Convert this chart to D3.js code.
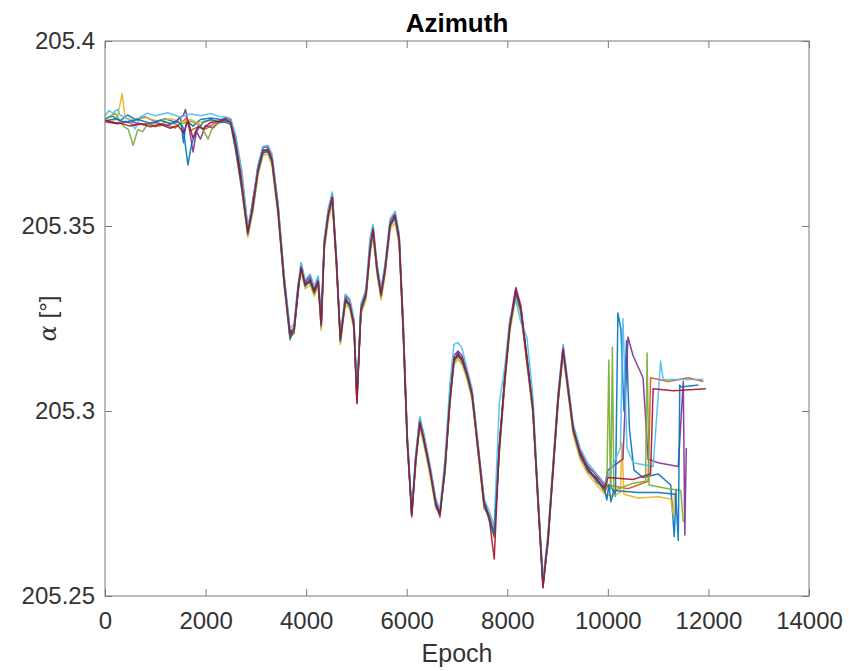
<!DOCTYPE html>
<html>
<head>
<meta charset="utf-8">
<script src="https://cdn.jsdelivr.net/npm/d3@7"></script>
<style>
  html, body { margin: 0; padding: 0; background: #ffffff; }
  svg { display: block; font-family: "Liberation Sans", Arial, Helvetica, sans-serif; }
</style>
</head>
<body>
<svg id="chart" width="849" height="671"></svg>
<script>
// ---------------- DATA ----------------
const title = "Azimuth";
const xLabel = "Epoch";
const yLabel = "α [°]";
const xTicks = [0, 2000, 4000, 6000, 8000, 10000, 12000, 14000];
const yTicks = [205.25, 205.3, 205.35, 205.4];
const yTickLabels = ["205.25", "205.3", "205.35", "205.4"];
const seriesColors = ["#0072BD", "#D95319", "#EDB120", "#7E2F8E", "#77AC30", "#4DBEEE", "#0072BD", "#A2142F"];

// shared epochs for the middle section of every run
const epochMid = [2400, 2500, 2600, 2720, 2840, 2940, 3040, 3140, 3240, 3320,
  3440, 3560, 3680, 3760, 3840, 3900, 3980, 4080, 4160, 4240,
  4300, 4360, 4440, 4520, 4600, 4680, 4780, 4870, 4950, 5010,
  5090, 5190, 5270, 5330, 5410, 5490, 5570, 5670, 5770, 5850,
  5930, 6010, 6100, 6180, 6260, 6340, 6460, 6580, 6660, 6760,
  6860, 6940, 7020, 7100, 7200, 7300, 7420, 7540, 7640, 7740,
  7840, 7950, 8050, 8170, 8270, 8390, 8510, 8610, 8710, 8810,
  8910, 9010, 9110, 9210, 9310, 9450, 9600, 9780, 9940];

// run 1
const head1 = [[0,205.3790],[150,205.3797],[300,205.3785],[450,205.3800],[600,205.3788],[800,205.3795],[1000,205.3782],[1200,205.3790],[1400,205.3780],[1500,205.3795],[1560,205.3725],[1620,205.3785],[1750,205.3770],[1900,205.3788],[2100,205.3792],[2300,205.3788]];
const mid1 = [205.3789,205.3779,205.3722,205.3630,205.3478,205.3571,205.3650,205.3708,205.3699,205.3684,
  205.3552,205.3346,205.3214,205.3225,205.3318,205.3392,205.3336,205.3360,205.3315,205.3356,
  205.3240,205.3441,205.3538,205.3569,205.3415,205.3185,205.3309,205.3279,205.3240,205.3041,
  205.3266,205.3320,205.3428,205.3495,205.3374,205.3321,205.3388,205.3496,205.3531,205.3455,
  205.3228,205.2915,205.2727,205.2860,205.2975,205.2915,205.2848,205.2739,205.2727,205.2834,
  205.3038,205.3130,205.3160,205.3131,205.3104,205.3036,205.2903,205.2739,205.2718,205.2672,
  205.2888,205.3091,205.3219,205.3330,205.3266,205.3145,205.2996,205.2766,205.2538,205.2644,
  205.2848,205.3022,205.3172,205.3050,205.2956,205.2874,205.2848,205.2807,205.2795];
const tail1 = [[10050,205.2800],[10150,205.2770],[10200,205.3265],[10260,205.3220],[10320,205.3000],[10370,205.3190],[10430,205.2950],[10520,205.2840],[10700,205.2820],[11000,205.2830],[11250,205.2800],[11320,205.2660],[11360,205.2790]];

// run 2
const head2 = [[0,205.3785],[200,205.3778],[400,205.3783],[600,205.3772],[800,205.3777],[1000,205.3768],[1200,205.3774],[1400,205.3765],[1500,205.3778],[1620,205.3792],[1700,205.3758],[1850,205.3768],[2000,205.3762],[2150,205.3776],[2300,205.3782]];
const mid2 = [205.3783,205.3785,205.3738,205.3640,205.3495,205.3552,205.3656,205.3694,205.3711,205.3670,
  205.3560,205.3368,205.3198,205.3210,205.3335,205.3379,205.3350,205.3344,205.3330,205.3341,
  205.3225,205.3456,205.3522,205.3583,205.3400,205.3200,205.3292,205.3294,205.3225,205.3022,
  205.3281,205.3306,205.3442,205.3482,205.3389,205.3306,205.3374,205.3510,205.3517,205.3470,
  205.3240,205.2935,205.2712,205.2875,205.2960,205.2930,205.2834,205.2753,205.2712,205.2848,
  205.3022,205.3145,205.3144,205.3146,205.3090,205.3050,205.2888,205.2754,205.2704,205.2658,
  205.2910,205.3076,205.3235,205.3314,205.3281,205.3130,205.3011,205.2752,205.2523,205.2659,
  205.2834,205.3038,205.3158,205.3065,205.2942,205.2888,205.2834,205.2821,205.2780];
const tail2 = [[10000,205.2800],[10400,205.2790],[10800,205.2810],[10850,205.3090],[11200,205.3080],[11600,205.3090],[11900,205.3080]];

// run 3
const head3 = [[0,205.3788],[150,205.3782],[250,205.3795],[340,205.3858],[400,205.3792],[600,205.3785],[800,205.3793],[1050,205.3784],[1300,205.3790],[1500,205.3781],[1700,205.3788],[1850,205.3778],[2000,205.3785],[2300,205.3784]];
const mid3 = [205.3780,205.3776,205.3700,205.3595,205.3470,205.3538,205.3635,205.3690,205.3696,205.3662,
  205.3530,205.3340,205.3190,205.3230,205.3340,205.3375,205.3330,205.3340,205.3310,205.3336,
  205.3218,205.3430,205.3515,205.3560,205.3395,205.3180,205.3288,205.3275,205.3218,205.3048,
  205.3260,205.3300,205.3420,205.3475,205.3368,205.3300,205.3368,205.3490,205.3510,205.3448,
  205.3205,205.2905,205.2730,205.2855,205.2955,205.2910,205.2828,205.2735,205.2730,205.2830,
  205.3018,205.3125,205.3140,205.3125,205.3085,205.3030,205.2882,205.2735,205.2722,205.2678,
  205.2880,205.3070,205.3212,205.3308,205.3260,205.3125,205.2990,205.2745,205.2545,205.2640,
  205.2828,205.3018,205.3152,205.3045,205.2936,205.2868,205.2830,205.2800,205.2775];
const tail3 = [[10100,205.2770],[10250,205.2780],[10280,205.2914],[10320,205.2775],[10600,205.2765],[11000,205.2768],[11250,205.2762],[11300,205.2720],[11330,205.2780]];

// run 4
const head4 = [[0,205.3782],[250,205.3776],[500,205.3783],[750,205.3774],[1000,205.3780],[1250,205.3772],[1400,205.3782],[1560,205.3800],[1600,205.3815],[1680,205.3760],[1750,205.3700],[1820,205.3755],[1900,205.3735],[2000,205.3772],[2150,205.3765],[2300,205.3786]];
const mid4 = [205.3792,205.3788,205.3732,205.3622,205.3490,205.3565,205.3660,205.3712,205.3714,205.3690,
  205.3556,205.3362,205.3215,205.3212,205.3322,205.3398,205.3348,205.3366,205.3328,205.3360,
  205.3245,205.3460,205.3542,205.3588,205.3420,205.3198,205.3312,205.3298,205.3245,205.3035,
  205.3285,205.3326,205.3446,205.3500,205.3392,205.3326,205.3392,205.3514,205.3535,205.3474,
  205.3232,205.2930,205.2722,205.2880,205.2980,205.2934,205.2852,205.2758,205.2724,205.2852,
  205.3042,205.3150,205.3162,205.3150,205.3108,205.3055,205.2906,205.2758,205.2715,205.2670,
  205.2906,205.3096,205.3238,205.3334,205.3285,205.3150,205.3015,205.2770,205.2535,205.2662,
  205.2852,205.3042,205.3176,205.3068,205.2960,205.2892,205.2852,205.2825,205.2798];
const tail4 = [[10000,205.2840],[10300,205.2870],[10400,205.3200],[10500,205.3150],[10700,205.3090],[10800,205.2870],[11000,205.2860],[11400,205.2850],[11500,205.3080],[11530,205.2665],[11560,205.2900]];

// run 5
const head5 = [[0,205.3790],[120,205.3798],[200,205.3805],[300,205.3785],[380,205.3768],[460,205.3762],[560,205.3718],[650,205.3760],[750,205.3755],[850,205.3776],[1050,205.3770],[1200,205.3781],[1450,205.3774],[1700,205.3783],[1900,205.3772],[2050,205.3735],[2150,205.3770],[2300,205.3780]];
const mid5 = [205.3784,205.3783,205.3708,205.3600,205.3474,205.3545,205.3642,205.3702,205.3700,205.3672,
  205.3538,205.3350,205.3200,205.3216,205.3330,205.3382,205.3345,205.3348,205.3318,205.3345,
  205.3228,205.3445,205.3526,205.3572,205.3404,205.3188,205.3296,205.3282,205.3228,205.3026,
  205.3270,205.3310,205.3432,205.3486,205.3378,205.3310,205.3378,205.3500,205.3520,205.3458,
  205.3214,205.2918,205.2716,205.2864,205.2964,205.2918,205.2838,205.2742,205.2716,205.2838,
  205.3026,205.3134,205.3148,205.3134,205.3094,205.3040,205.2892,205.2742,205.2708,205.2662,
  205.2892,205.3080,205.3224,205.3318,205.3270,205.3134,205.3000,205.2756,205.2527,205.2648,
  205.2838,205.3026,205.3162,205.3054,205.2946,205.2878,205.2838,205.2810,205.2783];
const tail5 = [[9980,205.2800],[10020,205.3138],[10050,205.2790],[10060,205.2795],[10090,205.3173],[10120,205.2785],[10500,205.2805],[10750,205.2810],[10780,205.3157],[10820,205.2800],[11200,205.2790],[11450,205.2785],[11500,205.2700]];

// run 6
const head6 = [[0,205.3798],[80,205.3812],[150,205.3806],[250,205.3815],[300,205.3800],[450,205.3790],[600,205.3762],[700,205.3795],[850,205.3805],[1000,205.3798],[1250,205.3806],[1500,205.3794],[1700,205.3803],[1900,205.3798],[2100,205.3804],[2300,205.3795]];
const mid6 = [205.3795,205.3790,205.3745,205.3650,205.3500,205.3560,205.3665,205.3715,205.3718,205.3695,
  205.3565,205.3372,205.3222,205.3235,205.3345,205.3402,205.3355,205.3370,205.3338,205.3365,
  205.3250,205.3465,205.3548,205.3592,205.3425,205.3205,205.3316,205.3302,205.3250,205.3050,
  205.3290,205.3330,205.3470,205.3505,205.3398,205.3330,205.3400,205.3520,205.3540,205.3480,
  205.3245,205.2940,205.2735,205.2885,205.2985,205.2940,205.2858,205.2762,205.2735,205.2870,
  205.3075,205.3180,205.3185,205.3170,205.3115,205.3060,205.2910,205.2762,205.2730,205.2690,
  205.3020,205.3120,205.3250,205.3300,205.3240,205.3200,205.3040,205.2780,205.2545,205.2670,
  205.2860,205.3050,205.3180,205.3075,205.2965,205.2900,205.2860,205.2830,205.2805];
const tail6 = [[10250,205.2900],[10300,205.3250],[10380,205.2900],[10500,205.2860],[10900,205.2850],[11050,205.3135],[11100,205.3085],[11600,205.3085],[11900,205.3085]];

// run 7
const head7 = [[0,205.3784],[200,205.3790],[400,205.3780],[650,205.3788],[900,205.3778],[1100,205.3786],[1300,205.3776],[1450,205.3782],[1550,205.3768],[1650,205.3665],[1720,205.3720],[1800,205.3752],[1950,205.3780],[2100,205.3788],[2300,205.3780]];
const mid7 = [205.3781,205.3774,205.3705,205.3602,205.3480,205.3548,205.3645,205.3698,205.3702,205.3675,
  205.3540,205.3348,205.3195,205.3222,205.3335,205.3384,205.3338,205.3350,205.3320,205.3346,
  205.3230,205.3446,205.3528,205.3574,205.3405,205.3190,205.3298,205.3284,205.3230,205.3032,
  205.3272,205.3312,205.3434,205.3488,205.3380,205.3312,205.3380,205.3502,205.3522,205.3460,
  205.3216,205.2920,205.2718,205.2866,205.2966,205.2920,205.2840,205.2744,205.2718,205.2840,
  205.3028,205.3136,205.3150,205.3136,205.3096,205.3042,205.2894,205.2744,205.2710,205.2664,
  205.2894,205.3082,205.3226,205.3320,205.3272,205.3136,205.3002,205.2758,205.2529,205.2650,
  205.2840,205.3028,205.3164,205.3056,205.2948,205.2880,205.2840,205.2812,205.2785];
const tail7 = [[9980,205.2760],[10020,205.2800],[10060,205.2755],[10120,205.2785],[10600,205.2780],[11000,205.2780],[11350,205.2775],[11400,205.2650],[11430,205.3070],[11460,205.3065],[11800,205.3070]];

// run 8
const head8 = [[0,205.3786],[180,205.3780],[350,205.3776],[500,205.3770],[700,205.3777],[900,205.3768],[1100,205.3775],[1300,205.3764],[1450,205.3772],[1560,205.3752],[1650,205.3784],[1750,205.3738],[1850,205.3770],[1950,205.3762],[2100,205.3780],[2300,205.3784]];
const mid8 = [205.3787,205.3780,205.3718,205.3610,205.3482,205.3555,205.3650,205.3704,205.3706,205.3680,
  205.3546,205.3356,205.3206,205.3220,205.3328,205.3388,205.3342,205.3354,205.3324,205.3350,
  205.3235,205.3450,205.3532,205.3578,205.3410,205.3194,205.3302,205.3288,205.3234,205.3020,
  205.3276,205.3316,205.3438,205.3492,205.3384,205.3316,205.3384,205.3506,205.3528,205.3466,
  205.3222,205.2925,205.2720,205.2870,205.2970,205.2925,205.2844,205.2750,205.2720,205.2844,
  205.3032,205.3140,205.3154,205.3140,205.3100,205.3046,205.2898,205.2750,205.2712,205.2600,
  205.2898,205.3086,205.3230,205.3326,205.3276,205.3140,205.3006,205.2762,205.2522,205.2654,
  205.2844,205.3034,205.3168,205.3060,205.2952,205.2884,205.2844,205.2816,205.2790];
const tail8 = [[10000,205.2820],[10500,205.2815],[10850,205.2830],[10900,205.3060],[11300,205.3055],[11950,205.3060]];

// ---------------- CHART ----------------
const heads = [head1, head2, head3, head4, head5, head6, head7, head8];
const mids  = [mid1, mid2, mid3, mid4, mid5, mid6, mid7, mid8];
const tails = [tail1, tail2, tail3, tail4, tail5, tail6, tail7, tail8];
const series = heads.map((h, k) =>
  h.concat(epochMid.map((e, i) => [e, mids[k][i]]), tails[k]));

const L = 105, T = 41, R = 809, B = 596;
const svg = d3.select("#chart");
const x = d3.scaleLinear().domain([0, 14000]).range([L, R]);
const y = d3.scaleLinear().domain([205.25, 205.4]).range([B, T]);

const line = d3.line().x(d => x(d[0])).y(d => y(d[1]));

svg.append("g").selectAll("path").data(series).join("path")
  .attr("d", line)
  .attr("fill", "none")
  .attr("stroke", (d, i) => seriesColors[i])
  .attr("stroke-width", 1.5)
  .attr("stroke-opacity", 0.9)
  .attr("stroke-linejoin", "round");

const axisColor = "#7a7a7a";
const textColor = "#333333";
const styleAxis = g => {
  g.select(".domain").remove();
  g.selectAll(".tick line").attr("stroke", axisColor);
  g.selectAll(".tick text").attr("fill", textColor).attr("font-size", 24)
    .attr("font-family", "'Liberation Sans', Arial, Helvetica, sans-serif");
};

svg.append("g").attr("transform", `translate(0,${B})`)
  .call(d3.axisBottom(x).tickValues(xTicks).tickFormat(d3.format("d")).tickSizeInner(-7).tickSizeOuter(0).tickPadding(16))
  .call(styleAxis);
svg.append("g").attr("transform", `translate(0,${T})`)
  .call(d3.axisTop(x).tickValues(xTicks).tickFormat("").tickSizeInner(-7).tickSizeOuter(0))
  .call(styleAxis);
svg.append("g").attr("transform", `translate(${L},0)`)
  .call(d3.axisLeft(y).tickValues(yTicks).tickFormat((d, i) => yTickLabels[i]).tickSizeInner(-7).tickSizeOuter(0).tickPadding(10))
  .call(styleAxis);
svg.append("g").attr("transform", `translate(${R},0)`)
  .call(d3.axisRight(y).tickValues(yTicks).tickFormat("").tickSizeInner(-7).tickSizeOuter(0))
  .call(styleAxis);

svg.append("rect").attr("x", L).attr("y", T).attr("width", R - L).attr("height", B - T)
  .attr("fill", "none").attr("stroke", axisColor).attr("stroke-width", 1);

svg.append("text").attr("x", (L + R) / 2).attr("y", 32).attr("text-anchor", "middle")
  .attr("font-size", 26).attr("font-weight", "bold").attr("fill", "#000").text(title);

svg.append("text").attr("x", (L + R) / 2).attr("y", 662).attr("text-anchor", "middle")
  .attr("font-size", 25).attr("fill", textColor).text(xLabel);

svg.append("text").attr("transform", `translate(56,${(T + B) / 2}) rotate(-90)`)
  .attr("text-anchor", "middle").attr("font-size", 24).attr("fill", textColor)
  .call(t => {
    t.append("tspan").attr("font-style", "italic").attr("font-family", "'DejaVu Serif', 'Liberation Serif', serif").text(yLabel.slice(0, 1));
    t.append("tspan").text(yLabel.slice(1));
  });
</script>
</body>
</html>
